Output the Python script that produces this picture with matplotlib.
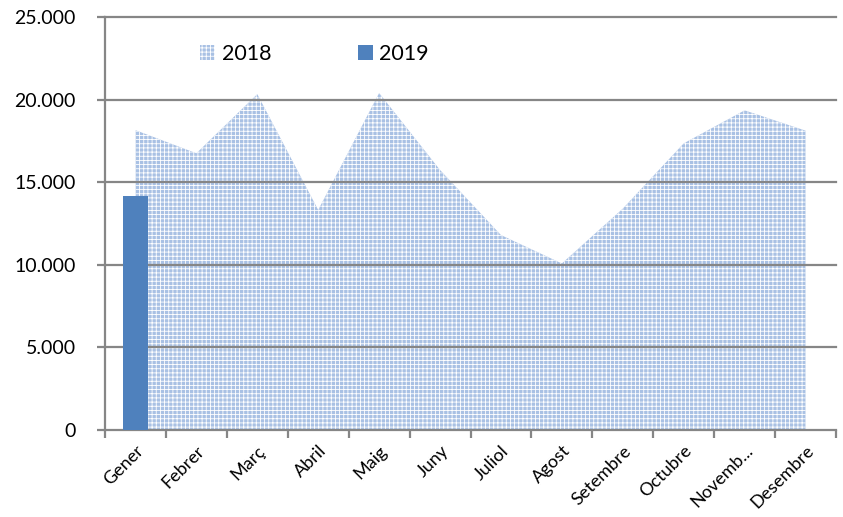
import matplotlib
matplotlib.use("Agg")
import matplotlib.pyplot as plt
from matplotlib.ticker import FuncFormatter, FixedLocator
from matplotlib.patches import Patch
import numpy as np

months = ["Gener", "Febrer", "Març", "Abril", "Maig", "Juny", "Juliol",
          "Agost", "Setembre", "Octubre", "Novemb...", "Desembre"]
values_2018 = [18150, 16750, 20330, 13320, 20400, 15740, 11800,
               10080, 13400, 17350, 19350, 18120]
values_2019 = [14180]
yticks = [0, 5000, 10000, 15000, 20000, 25000]

plt.rcParams['font.family'] = ['Lato', 'DejaVu Sans']
plt.rcParams['hatch.linewidth'] = 0.6

fig = plt.figure(figsize=(8.43, 5.17), dpi=100)
ax = fig.add_axes([105/843, 1-430/517, (836-105)/843, (430-17)/517])

x = np.arange(len(months))
area_face = '#a9c1e4'
ax.fill_between(x, values_2018, 0, facecolor=area_face, edgecolor='white',
                hatch='++++', linewidth=0, zorder=1)
ax.bar(np.arange(len(values_2019)), values_2019, width=0.41, color='#4f81bd', zorder=3)

for yv in yticks[1:]:
    ax.axhline(yv, color='#868686', lw=1.6, zorder=2, clip_on=False)

ax.set_xlim(-0.5, len(months)-0.5)
ax.set_ylim(0, 25000)
ax.yaxis.set_major_locator(FixedLocator(yticks))
ax.yaxis.set_major_formatter(FuncFormatter(lambda v, p: f"{int(v):,}".replace(",", ".")))
ax.set_xticks(np.arange(len(months)+1) - 0.5)
ax.set_xticklabels([])
ax.set_xticks(x, minor=True)
ax.set_xticklabels(months, minor=True, rotation=45, ha='right', rotation_mode='anchor',
                   fontsize=13)
ax.tick_params(axis='x', which='minor', length=0, pad=9)
ax.tick_params(axis='x', which='major', length=6, color='#868686', width=1.6)
ax.tick_params(axis='y', length=6, color='#868686', width=1.6, labelsize=14, pad=15)

for s in ['top', 'right']:
    ax.spines[s].set_visible(False)
for s in ['left', 'bottom']:
    ax.spines[s].set_color('#868686')
    ax.spines[s].set_linewidth(1.6)

handles = [Patch(facecolor=area_face, edgecolor='white', hatch='++++', linewidth=0, label='2018'),
           Patch(facecolor='#4f81bd', label='2019')]
ax.legend(handles=handles, loc='upper left', bbox_to_anchor=(0.104, 0.982), ncol=2,
          frameon=False, fontsize=15.5, handlelength=0.7, handleheight=0.7,
          handletextpad=0.3, columnspacing=4.0)

fig.savefig("out.png", dpi=100)
